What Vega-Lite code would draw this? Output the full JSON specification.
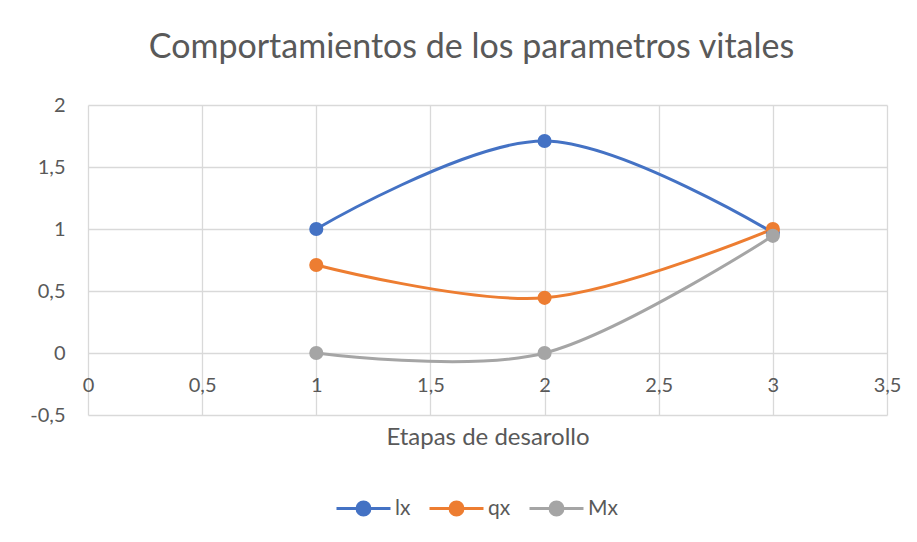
{
  "$schema": "https://vega.github.io/schema/vega-lite/v6.json",
  "width": 799,
  "height": 310,
  "autosize": "none",
  "padding": {"left": 88, "top": 105, "right": 30, "bottom": 127},
  "background": "white",
  "title": {
    "text": "Comportamientos de los parametros vitales",
    "font": "Lato",
    "fontSize": 34,
    "fontWeight": "normal",
    "color": "#595959",
    "anchor": "middle",
    "baseline": "alphabetic",
    "offset": 3,
    "dx": -16
  },
  "data": {
    "values": [
      {"etapa": 1, "serie": "lx", "valor": 1},
      {"etapa": 2, "serie": "lx", "valor": 1.71},
      {"etapa": 3, "serie": "lx", "valor": 0.97},
      {"etapa": 1, "serie": "qx", "valor": 0.71},
      {"etapa": 2, "serie": "qx", "valor": 0.445},
      {"etapa": 3, "serie": "qx", "valor": 1},
      {"etapa": 1, "serie": "Mx", "valor": 0},
      {"etapa": 2, "serie": "Mx", "valor": 0},
      {"etapa": 3, "serie": "Mx", "valor": 0.945}
    ]
  },
  "encoding": {
    "x": {
      "field": "etapa",
      "type": "quantitative",
      "scale": {"domain": [0, 3.5], "nice": false, "zero": false},
      "axis": {
        "title": "Etapas de desarollo",
        "values": [0, 0.5, 1, 1.5, 2, 2.5, 3, 3.5],
        "labelExpr": "replace(toString(datum.value), '.', ',')",
        "offset": -62,
        "ticks": false,
        "domain": false,
        "labelFlush": false,
        "labelPadding": 22,
        "titlePadding": 30,
        "titleFontSize": 24,
        "grid": true
      }
    },
    "y": {
      "field": "valor",
      "type": "quantitative",
      "scale": {"domain": [-0.5, 2], "nice": false, "zero": false},
      "axis": {
        "title": null,
        "values": [-0.5, 0, 0.5, 1, 1.5, 2],
        "labelExpr": "replace(toString(datum.value), '.', ',')",
        "ticks": false,
        "domain": false,
        "labelPadding": 23,
        "grid": true
      }
    },
    "color": {
      "field": "serie",
      "type": "nominal",
      "scale": {"domain": ["lx", "qx", "Mx"], "range": ["#4472C4", "#ED7D31", "#A5A5A5"]},
      "legend": {
        "title": null,
        "orient": "none",
        "direction": "horizontal",
        "legendX": 247,
        "legendY": 375,
        "symbolType": "M-1,0L1,0M-0.24,0A0.24,0.24,0,1,1,0.24,0A0.24,0.24,0,1,1,-0.24,0Z",
        "symbolSize": 2916,
        "symbolStrokeWidth": 3,
        "symbolOpacity": 1,
        "labelFont": "Lato",
        "labelFontSize": 21,
        "labelColor": "#595959",
        "labelOffset": 3,
        "columnPadding": 12,
        "encode": {
          "symbols": {
            "update": {
              "stroke": {"field": "value", "scale": "color"},
              "fill": {"field": "value", "scale": "color"}
            }
          }
        }
      }
    }
  },
  "layer": [
    {
      "mark": {"type": "line", "interpolate": "cardinal", "strokeWidth": 3}
    },
    {
      "mark": {"type": "point", "filled": true, "size": 200, "opacity": 1}
    }
  ],
  "config": {
    "view": {"stroke": null},
    "axis": {
      "labelFont": "Lato",
      "labelFontSize": 20,
      "labelColor": "#595959",
      "titleFont": "Lato",
      "titleFontSize": 20,
      "titleFontWeight": "normal",
      "titleColor": "#595959",
      "gridColor": "#D9D9D9",
      "gridWidth": 1.3,
      "gridOpacity": 1
    }
  }
}
